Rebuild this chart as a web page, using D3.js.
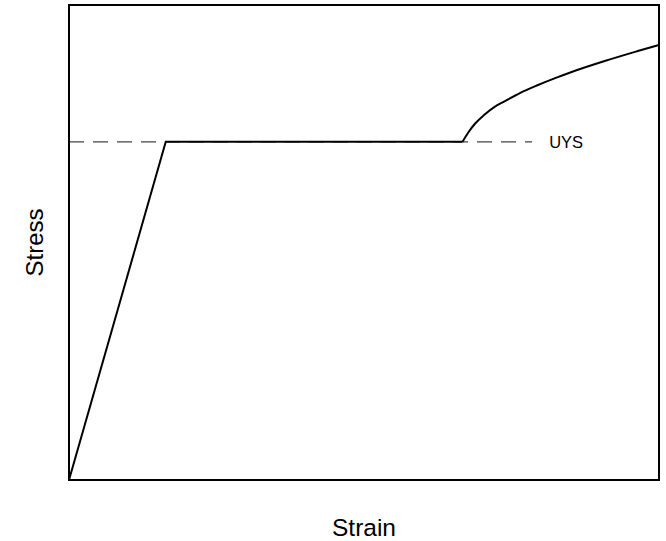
<!DOCTYPE html>
<html>
<head>
<meta charset="utf-8">
<script src="https://cdn.jsdelivr.net/npm/d3@7"></script>
<style>
  body { margin: 0; background: #fff; }
  text { font-family: Arial, "Liberation Sans", sans-serif; }
</style>
</head>
<body>
<div id="graph1"></div>
<script>
// stress-strain curve, values (arbitrary units 0..100)
var elastic_x = [0, 16.4, 66.7];
var elastic_y = [0, 71.2, 71.2];
var harden_x = [66.7, 67.7, 68.8, 70.4, 72.2, 73.8, 76.5, 79.4, 82.4, 85.2, 90.8, 96.4, 100];
var harden_y = [71.2, 73.2, 75.0, 76.9, 78.6, 79.7, 81.5, 83.1, 84.6, 85.9, 88.2, 90.3, 91.6];
var uys_level = 71.2;
var uys_x = [0, 78.5];
var uys_label = "UYS";

function make_plot(){
  var width = 666, height = 541;
  var margin = {left: 69, right: 7, top: 5, bottom: 61};

  var xScale = d3.scaleLinear()
    .domain([0, 100])
    .range([margin.left, width - margin.right]);
  var yScale = d3.scaleLinear()
    .domain([0, 100])
    .range([height - margin.bottom, margin.top]);

  var svg = d3.select("#graph1").append("svg")
    .attr("width", width)
    .attr("height", height);

  // dashed UYS reference line
  svg.append("line")
    .attr("x1", xScale(uys_x[0]))
    .attr("x2", xScale(uys_x[1]))
    .attr("y1", yScale(uys_level))
    .attr("y2", yScale(uys_level))
    .attr("stroke", "#444")
    .attr("stroke-width", 1.2)
    .attr("stroke-dasharray", "15,9");

  svg.append("text")
    .attr("x", xScale(uys_x[1]) + 17)
    .attr("y", yScale(uys_level) + 6)
    .attr("font-size", 16.5)
    .text(uys_label);

  // linear elastic + plateau
  var line = d3.line()
    .x(function(d, i) { return xScale(elastic_x[i]); })
    .y(function(d) { return yScale(d); });

  svg.append("path")
    .datum(elastic_y)
    .attr("d", line)
    .attr("fill", "none")
    .attr("stroke", "#000")
    .attr("stroke-width", 2)
    .attr("stroke-linejoin", "miter");

  // strain hardening
  var curve = d3.line()
    .x(function(d, i) { return xScale(harden_x[i]); })
    .y(function(d) { return yScale(d); })
    .curve(d3.curveMonotoneX);

  svg.append("path")
    .datum(harden_y)
    .attr("d", curve)
    .attr("fill", "none")
    .attr("stroke", "#000")
    .attr("stroke-width", 2);

  // frame
  svg.append("rect")
    .attr("x", xScale(0))
    .attr("y", yScale(100))
    .attr("width", xScale(100) - xScale(0))
    .attr("height", yScale(0) - yScale(100))
    .attr("fill", "none")
    .attr("stroke", "#000")
    .attr("stroke-width", 2);

  // axis titles
  svg.append("text")
    .attr("x", (xScale(0) + xScale(100)) / 2)
    .attr("y", 536)
    .attr("text-anchor", "middle")
    .attr("font-size", 24.5)
    .text("Strain");

  svg.append("text")
    .attr("transform", "translate(43," + (yScale(0) + yScale(100)) / 2 + ") rotate(-90)")
    .attr("text-anchor", "middle")
    .attr("font-size", 24)
    .text("Stress");
}
make_plot();
</script>
</body>
</html>
